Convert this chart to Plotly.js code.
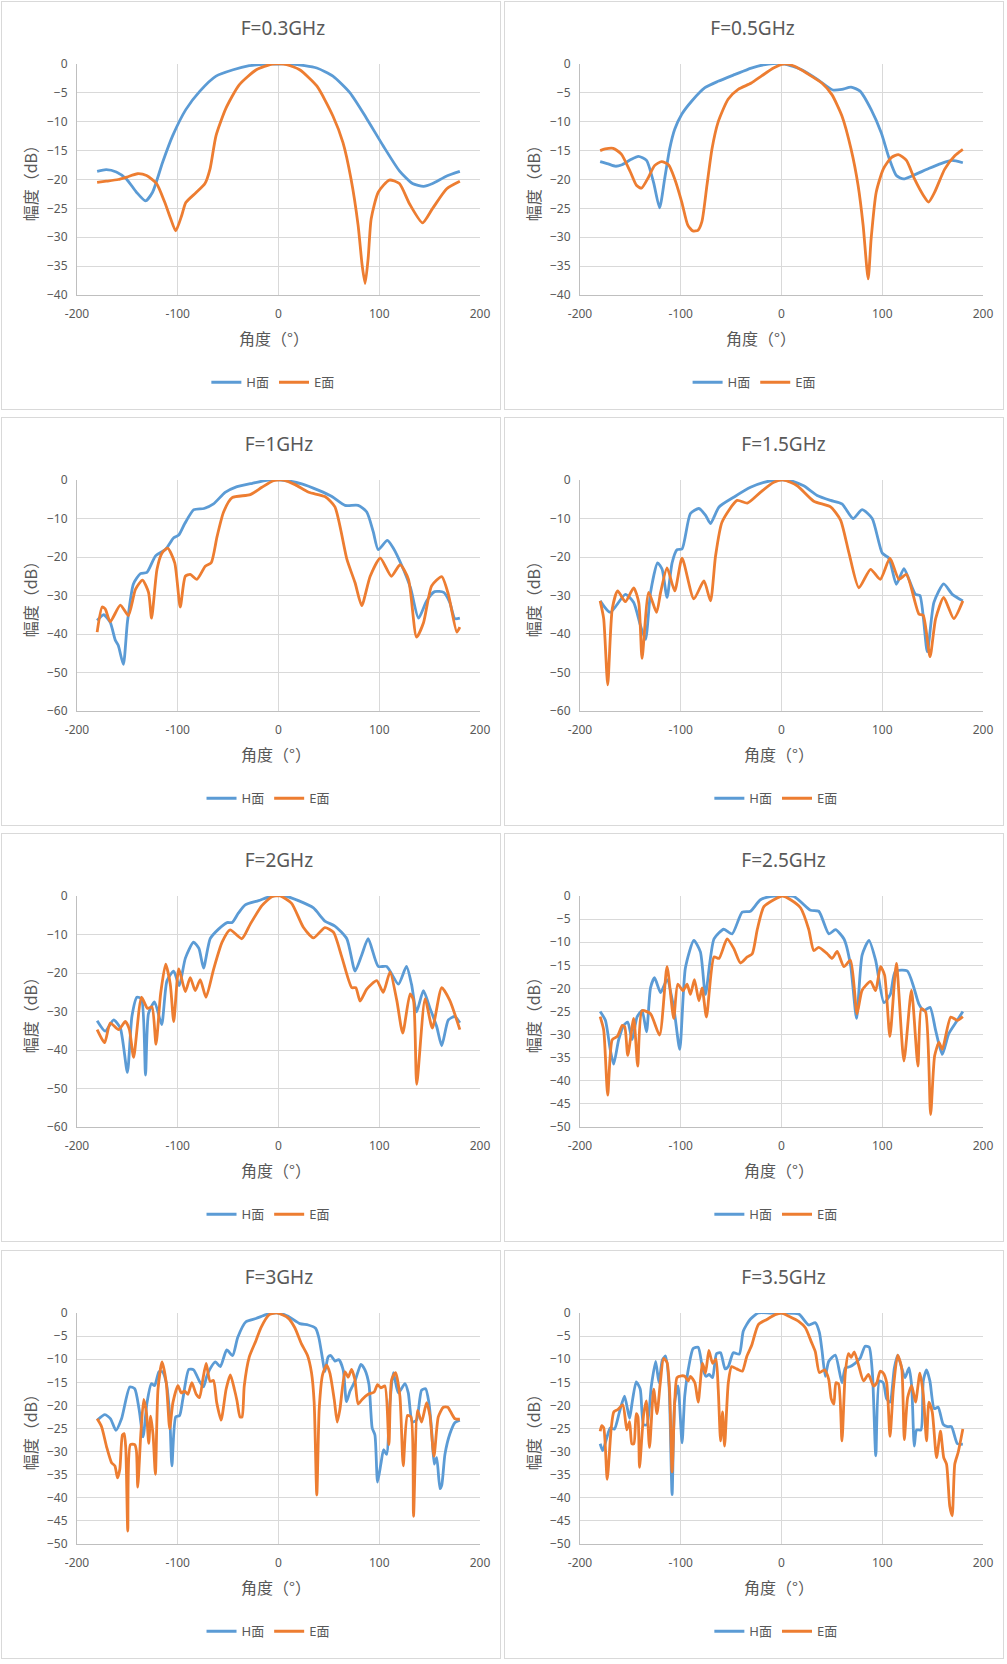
<!DOCTYPE html>
<html>
<head>
<meta charset="utf-8">
<script src="https://cdn.plot.ly/plotly-3.0.1.min.js"></script>
<style>
  body { margin: 0; background: #fff; }
  #wrap { position: relative; width: 1007px; height: 1664px; }
  .panel { position: absolute; width: 500px; height: 409px; box-sizing: border-box;
           border: 1px solid #d9d9d9; background: #fff; }
</style>
</head>
<body>
<div id="wrap"></div>
<script>
/* ── Data: [angle (°), amplitude (dB)] ── */
const H_03 = [[-180,-18.6],[-171,-18.3],[-161,-18.7],[-151,-19.9],[-141,-22.2],[-132,-23.7],[-125,-22.2],[-115,-17],[-105,-12.4],[-92,-7.9],[-78,-4.7],[-62,-2.1],[-45,-1],[-29,-0.3],[-12,0],[0,0],[14,0],[38,-0.7],[54,-2.1],[71,-5],[87,-9.3],[104,-14.2],[120,-18.5],[133,-20.7],[144,-21.2],[153,-20.7],[167,-19.4],[180,-18.6]];
const E_03 = [[-180,-20.5],[-171,-20.3],[-159,-20],[-151,-19.6],[-140,-19],[-131,-19.3],[-121,-20.7],[-113,-23.9],[-107,-26.8],[-102,-28.9],[-96,-26.2],[-92,-24],[-82,-22.3],[-73,-20.7],[-68,-18.2],[-62,-12.4],[-52,-7.6],[-39,-3.6],[-22,-1],[-6,0],[8,-0.1],[21,-1],[38,-3.8],[54,-9],[64,-13.6],[72,-19.9],[79,-27.9],[83,-34.8],[86,-38],[89,-33.6],[92,-26.8],[99,-22.2],[110,-20.1],[120,-20.7],[130,-24.2],[143,-27.5],[153,-25],[167,-21.6],[180,-20.3]];

const H_05 = [[-180,-16.9],[-172,-17.3],[-165,-17.7],[-159,-17.5],[-150,-16.6],[-142,-16],[-134,-16.7],[-127,-20.5],[-121,-24.9],[-116,-19.9],[-111,-14.7],[-106,-11.3],[-99,-8.7],[-89,-6.4],[-76,-4.1],[-63,-3],[-46,-1.8],[-30,-0.7],[-13,0],[3,0],[20,-1],[36,-2.7],[51,-4.5],[60,-4.4],[69,-4],[78,-4.7],[89,-7.9],[99,-11.9],[107,-16.4],[114,-19.3],[121,-19.9],[132,-19.2],[146,-18.1],[159,-17.2],[169,-16.7],[180,-17.1]];
const E_05 = [[-180,-15],[-175,-14.7],[-167,-14.6],[-159,-15.6],[-150,-18.7],[-144,-21],[-139,-21.5],[-132,-19.6],[-126,-17.6],[-119,-16.9],[-112,-17.5],[-106,-19.9],[-99,-23.9],[-93,-27.9],[-88,-28.9],[-83,-28.8],[-79,-27.3],[-74,-21],[-69,-14.7],[-63,-10.1],[-53,-6.1],[-43,-4.4],[-30,-3.3],[-20,-2.1],[-8,-0.7],[2,0],[13,-0.4],[26,-1.7],[40,-3.3],[50,-5.3],[60,-9],[69,-14.7],[76,-21],[81,-27.9],[86,-37.2],[89,-30.2],[94,-22.2],[101,-18.2],[109,-16.2],[116,-15.7],[124,-16.7],[132,-19.9],[141,-22.8],[146,-23.9],[152,-22.2],[162,-18.2],[172,-15.9],[180,-14.8]];

const H_10 = [[-180,-36.5],[-173.5,-35],[-167,-37],[-162,-41.6],[-159,-43],[-154,-47.9],[-150,-37],[-144,-27],[-137,-24.3],[-130.6,-24],[-122,-19.7],[-112,-18],[-104,-15],[-99,-14.3],[-93,-11.3],[-84,-7.7],[-74,-7.4],[-64.5,-6.2],[-53,-3.2],[-43,-1.9],[-26,-0.85],[-10,0],[3,0],[23,-1],[40,-2.7],[53,-4.3],[66,-6.6],[79,-6.6],[87.6,-8.3],[94,-13.4],[99,-18.1],[108,-15.7],[114,-17.7],[122,-22],[131,-28],[139,-35.9],[147,-31.4],[155,-29],[164,-29.2],[170,-31.8],[175,-36],[180,-35.9]];
const E_10 = [[-180,-39.5],[-175,-33],[-172,-33.5],[-167,-36.8],[-157,-32.5],[-149,-35.2],[-142,-28.4],[-135,-26],[-129,-29.2],[-126,-35.9],[-120.6,-23.2],[-115.7,-19],[-110,-17.7],[-103,-21.5],[-97.5,-33],[-92.5,-25],[-87.6,-24.5],[-81,-25.8],[-72.7,-22.4],[-66.8,-21.5],[-61,-14.7],[-54.5,-8.3],[-46,-4.6],[-28,-3.8],[-16.5,-1.9],[-5,-0.2],[5,0],[16.5,-1.2],[30,-3.2],[46,-4.3],[56,-7],[68,-20.7],[76,-26.7],[82.6,-32.6],[91,-25],[101,-20.3],[112,-25],[120.7,-22],[129,-25.8],[137,-40.8],[144,-37],[152,-27.5],[162,-25.1],[168.6,-29.7],[177,-39.5],[180,-38.2]];

const H_15 = [[-180,-31.4],[-170,-34.4],[-155,-29.7],[-146.7,-31.8],[-140,-37.8],[-135,-41.4],[-130,-29.2],[-123,-21.5],[-118.5,-23.2],[-113.6,-30.5],[-108.6,-21.5],[-103.6,-18.1],[-98.7,-17.9],[-90.4,-8.7],[-82,-7.4],[-75.5,-9.1],[-70.5,-11.3],[-62,-7],[-47,-4.4],[-30.8,-1.9],[-17.5,-0.6],[-4.3,0],[9,-0.2],[22,-1.5],[35.4,-4],[48.7,-5.3],[60,-6.2],[71,-10],[80,-7.7],[90,-10],[100,-19],[106.6,-20.3],[114,-27.1],[121.5,-23],[126.5,-25.8],[133,-29.7],[137.4,-30],[144.7,-44.6],[151.3,-31.8],[161,-27],[169.5,-29.7],[180,-31.4]];
const E_15 = [[-180,-31.4],[-176.5,-36],[-172.5,-53.2],[-168,-33.5],[-162.6,-28.8],[-155,-31.6],[-146.7,-28],[-141.7,-31.8],[-138.4,-46.3],[-131.8,-29.2],[-124,-34.4],[-120,-29.2],[-113.6,-22.8],[-106,-28.8],[-98.7,-20.3],[-87,-30.9],[-77,-26.2],[-70.5,-31.4],[-65.5,-19.8],[-59,-10.9],[-44,-5.3],[-34,-6],[-21,-3.2],[-7.6,-0.6],[2.3,0],[15.6,-1.5],[32,-5.5],[48.7,-7],[58.6,-10.4],[67,-19],[76.8,-28],[88.4,-23.2],[98,-25.8],[107.6,-20.3],[116.6,-25.8],[124,-24.5],[136.4,-34.8],[140.7,-35.2],[147.4,-45.9],[153,-36],[161,-30.5],[171,-36],[180,-31.4]];

const H_20 = [[-180,-32.4],[-172,-35.1],[-163.6,-32.2],[-157,-34.3],[-150,-45.8],[-145.5,-31.3],[-140.5,-26.3],[-136,-26.7],[-132,-46.5],[-129,-30.5],[-123,-27.5],[-116,-33.4],[-110.7,-22],[-104,-19.5],[-98.5,-23.3],[-92.5,-16.2],[-84.3,-12],[-79,-13.6],[-74.4,-18.7],[-67.8,-11.1],[-59.5,-8.6],[-51,-6.9],[-46,-6.9],[-39.7,-4.4],[-33,-2.3],[-19.8,-1.2],[-6.6,0],[6.6,0],[19.8,-1.2],[34.7,-3.1],[46,-6.5],[56,-7.8],[67.8,-11.1],[76,-19.5],[82.6,-15.3],[89,-11.1],[99,-18.3],[107.4,-18.3],[119,-22.9],[127,-18.3],[132,-22.9],[137,-30.1],[143.8,-24.6],[150.4,-29.2],[157,-33.9],[162,-38.9],[168.6,-32.2],[175,-31.3],[180,-32.9]];
const E_20 = [[-180,-34.7],[-172.6,-38.1],[-167,-33],[-158.7,-34.7],[-152,-32.6],[-148,-34.7],[-143.8,-41.9],[-136,-26.3],[-130,-29.2],[-125.6,-28.8],[-121.6,-38.5],[-117,-25.4],[-112,-17.7],[-107.4,-22.9],[-104,-32.6],[-99,-18.9],[-92.5,-24.8],[-87.6,-21.2],[-82.6,-24.6],[-77.7,-21.7],[-72,-26.3],[-64.5,-19.1],[-56,-12],[-48,-8.8],[-36.4,-11.1],[-28,-7.3],[-16.5,-2.5],[-6.6,-0.2],[1.7,0],[13,-1.9],[24.8,-8.2],[34.7,-10.9],[46,-8.2],[54.5,-9.4],[62.8,-15.8],[72.7,-23.8],[76.7,-23.8],[81,-27.3],[87.6,-24.2],[97.5,-22],[104,-25],[110.7,-19.7],[117.4,-27.1],[123.3,-35.6],[130.6,-25.4],[134,-27.1],[137.2,-48.9],[145.5,-26.7],[152.7,-34.3],[162,-23.8],[170,-27.1],[180,-34.7]];

const H_25 = [[-180,-25],[-174.8,-26.9],[-170,-33.2],[-166.6,-36.4],[-161.6,-31.1],[-156.6,-28],[-152.6,-27.3],[-148.3,-31.1],[-143.4,-26.2],[-138.4,-24.8],[-134,-29.4],[-130,-19.9],[-126,-17.7],[-120,-20.9],[-113.6,-18.1],[-107,-24.1],[-101,-33.2],[-95.4,-15.6],[-87,-9.6],[-80.5,-12.1],[-75.5,-21.3],[-67,-9.3],[-57.3,-7.2],[-49,-8.2],[-39,-3.5],[-30.8,-3.3],[-20.9,-0.8],[-7.6,0],[12.3,-0.1],[28.8,-3.1],[37,-3.3],[47,-8.2],[53.6,-7.3],[62,-9.3],[68.5,-14.9],[74.5,-26.5],[80,-12.8],[86.8,-9.6],[93.4,-13.9],[101.7,-23.1],[108,-21.3],[113,-16.3],[124.8,-16.2],[131.5,-19.9],[136.4,-23.4],[141.4,-24.8],[147.4,-24.1],[153,-29.1],[159.6,-34.3],[166,-29.8],[174.5,-26.9],[180,-25]];
const E_25 = [[-180,-26.1],[-176.5,-29],[-172.5,-43.1],[-168,-31.1],[-163,-30.4],[-158,-28],[-155.6,-28.3],[-152.6,-34.5],[-146.7,-26.5],[-142.7,-36.8],[-138.4,-24.8],[-130,-25.5],[-121,-30.1],[-113.6,-15.3],[-107,-26.5],[-103,-19.1],[-97.7,-20.5],[-93.7,-19.1],[-90.4,-21.3],[-86.4,-18.1],[-82,-22.7],[-78.8,-19.9],[-74.5,-26.2],[-67,-13.2],[-62,-13.5],[-54,-9.3],[-47.3,-11.4],[-40.7,-14.5],[-34,-13.2],[-29,-12.5],[-24,-7.2],[-17.5,-2.3],[-7.6,-0.8],[0.7,0],[9,-0.8],[19,-2.6],[27,-7.2],[32,-11.8],[37,-11.1],[45.4,-12.5],[50.3,-13.5],[55.3,-12],[62,-15.3],[68.5,-13.9],[75,-25.5],[80,-20.4],[88.4,-18.5],[93.4,-20.5],[98.3,-15.3],[102.3,-17.1],[107.6,-30.4],[114,-14.6],[121.5,-35.7],[129,-20.4],[135.4,-36.8],[138.7,-24.4],[143,-25.1],[148,-47.3],[152,-34.6],[156.3,-31.7],[159.6,-33.2],[168,-26.2],[174.5,-26.9],[180,-26.1]];

const H_30 = [[-180,-23.2],[-172.3,-22],[-166.7,-22.9],[-161.4,-25.4],[-155.8,-22.9],[-147.6,-16],[-142.7,-16.4],[-138.4,-20.8],[-134.4,-26.8],[-130.5,-19.4],[-126.2,-15.3],[-122.9,-15.7],[-118.6,-12.7],[-115.3,-12.7],[-111.4,-15.1],[-108,-22.2],[-105.8,-33.1],[-102,-22.5],[-98.2,-22.2],[-95,-18.7],[-89,-12.2],[-84.3,-12.3],[-78.4,-14.8],[-74.5,-16],[-71.2,-13.7],[-68.5,-12.3],[-62.6,-10.6],[-57.7,-11.6],[-51.4,-8],[-45.5,-9.2],[-40.5,-5.3],[-32.3,-1.9],[-22.4,-1.2],[-12.5,-0.35],[-5.9,0],[0,0],[9.6,-0.7],[21.2,-2.3],[29.5,-2.6],[36.8,-3.3],[40,-5.3],[43.4,-9.5],[46,-12.7],[49.3,-9.5],[52,-9.2],[56,-10.4],[60,-10.1],[64.2,-12.3],[67.5,-19.2],[71,-16.9],[75.8,-14.8],[78.5,-13],[81.8,-11.1],[85.8,-12.3],[89.8,-15.5],[93,-24.9],[95.7,-26.4],[98.3,-36.6],[101.6,-32.7],[104.3,-29.6],[107.3,-30.6],[110.6,-19.4],[114,-12.9],[118.9,-17.3],[125.5,-15.3],[128.8,-17.3],[132.8,-23.6],[137,-23.2],[142,-16.7],[146,-16.4],[149.3,-19.4],[152,-25.4],[154.6,-32.7],[157,-31.3],[160.3,-38],[162,-37.3],[165.2,-30.6],[170.2,-26.1],[175.2,-23.7],[180,-23.2]];
const E_30 = [[-180,-22.9],[-175.6,-24.6],[-170.7,-28.9],[-165.7,-32.4],[-162.4,-33.1],[-159.8,-35.7],[-157.5,-33.8],[-154.9,-26.4],[-153.2,-26.1],[-151.6,-29.2],[-149.6,-47.2],[-147,-28.5],[-142.7,-28.5],[-141,-29.9],[-139.7,-37.7],[-136.7,-26.4],[-133.8,-18.7],[-131.1,-21.5],[-128.8,-28.2],[-126.9,-22.3],[-124.5,-26.4],[-122.2,-34.9],[-119.6,-16.5],[-115.6,-10.6],[-111.4,-15.1],[-108,-25],[-104.8,-19.4],[-99.8,-15.7],[-96.5,-17.3],[-93.2,-16.9],[-90,-17.6],[-86,-15.1],[-81.7,-17.6],[-78.4,-18.3],[-75.1,-14.4],[-71.8,-10.9],[-67.9,-14.8],[-64.6,-14.6],[-61.3,-19.4],[-57,-23.2],[-52,-16.5],[-47.8,-13.4],[-43.8,-16.5],[-41.2,-19],[-38.2,-22.5],[-36.2,-22.5],[-34,-15.8],[-29,-9.5],[-22.4,-6],[-17.5,-3.2],[-9.2,-0.35],[-1,0],[9.6,-1.1],[16.2,-3.2],[22.8,-6.7],[28.8,-9.2],[32.8,-13],[35.4,-19.4],[38,-39.4],[40.4,-20.8],[43.7,-13.4],[47.7,-11.3],[51,-13],[55.3,-18.7],[58.3,-23.6],[61,-20.8],[66,-12.7],[69.2,-13.9],[72.5,-12.2],[75.8,-14.4],[79,-19.7],[83,-18.7],[89,-17.6],[95,-17.1],[98.3,-15.5],[101.6,-16.2],[105.6,-15.8],[109.6,-28.5],[112.3,-14.4],[116.2,-12.9],[120.5,-18],[123.8,-33.1],[128,-22.2],[131.5,-22.5],[134,-44],[138,-21.1],[142,-23.6],[147,-19.4],[150.3,-22.2],[154.3,-31],[158.6,-22.5],[163.6,-20.4],[168,-20.4],[171.9,-21.8],[175.2,-22.9],[180,-23]];

const H_35 = [[-180,-28.3],[-177.4,-29.8],[-173.4,-27],[-170,-24.9],[-165.8,-25.1],[-160.8,-21.4],[-155.8,-18],[-150.8,-22.8],[-148.2,-19.3],[-144.2,-14.9],[-140.2,-16.5],[-136.9,-24.2],[-133.6,-24.2],[-129.2,-15.8],[-124.9,-10.5],[-121.6,-15.1],[-118.3,-10.2],[-115,-9.3],[-111.6,-15.8],[-108.6,-39.3],[-106,-19.3],[-102.7,-15.8],[-98.7,-28.1],[-96,-17.9],[-91.7,-11.2],[-87.7,-7.7],[-82.7,-7.4],[-78.4,-11.9],[-75,-13.7],[-71.8,-13.3],[-68.4,-14],[-64.5,-8.8],[-60.5,-8.6],[-56,-12.1],[-52.8,-11.6],[-47.8,-8.6],[-41.9,-8.9],[-37.9,-3.9],[-31.2,-1.4],[-23,0],[-11.3,0],[0,0],[17,-0.2],[27,-2.6],[33.6,-2.1],[37.6,-4.2],[40.2,-8.1],[43.5,-13.7],[46.8,-10.5],[53.4,-9.1],[60,-15.1],[63.3,-11.9],[68.2,-11.6],[73,-10.9],[78,-9.8],[83,-7.2],[87,-7.4],[90.3,-13.3],[93.6,-30.9],[97.2,-14.7],[101,-15.1],[104.4,-18.6],[107.7,-19.3],[112,-11.9],[115.3,-9.1],[119.3,-11.9],[122.6,-14],[126.5,-11.9],[129.2,-15.8],[131.8,-28.8],[134.1,-25.3],[138.4,-25.3],[140.7,-14.7],[144,-12.3],[147.3,-14.7],[151.6,-20.7],[155.5,-20.4],[160.5,-24.1],[164.7,-24.6],[168.7,-24.6],[174.6,-28.3],[180,-28.4]];
const E_35 = [[-180,-25.6],[-178.4,-24.4],[-176.4,-24.9],[-173,-36],[-169,-24.9],[-166.4,-21.4],[-162.5,-20.9],[-157.5,-19.9],[-153.5,-25.3],[-150.8,-23.5],[-148.5,-28.3],[-146.5,-28.3],[-144.2,-21.8],[-142.5,-22.5],[-140.9,-33.4],[-136.9,-22.1],[-134.2,-19],[-131,-29.1],[-126.9,-16.5],[-123.6,-21.8],[-120.3,-15.1],[-117,-9.8],[-113.6,-10.7],[-111,-17.2],[-108.6,-34.4],[-106,-19.3],[-103.7,-14],[-99.3,-13.6],[-96,-13.7],[-92.7,-14.7],[-90.4,-13.7],[-86,-15.1],[-82.7,-19.3],[-78.4,-10.9],[-75.4,-13],[-72.1,-8.1],[-68.4,-10.9],[-65.1,-10],[-62.8,-16.5],[-60.5,-27.7],[-58.5,-21.4],[-56.5,-28.8],[-52.8,-15.1],[-49.5,-11.6],[-44.5,-12.1],[-38.9,-12.6],[-34.6,-9.5],[-29.6,-7],[-23,-2.5],[-14.6,-1.4],[-6.3,-0.35],[0,0],[7.2,-0.7],[17,-1.8],[23.7,-3.2],[29.7,-6.3],[33.6,-8.4],[37.6,-12.9],[42.8,-12.3],[46.8,-14.3],[49.4,-18.6],[52,-19.7],[54,-15.1],[56.7,-15.4],[60,-27.7],[63.3,-13],[66.5,-8.8],[69.2,-9.6],[72.2,-8.4],[76.4,-11.2],[81.4,-14.7],[86.3,-13.3],[91.3,-15.8],[94.6,-15.1],[97.9,-12.6],[101,-13],[104.4,-15.1],[107.7,-26.7],[111,-16.5],[115.3,-9.1],[119.3,-11.9],[121.9,-27.4],[125.2,-18.3],[129.2,-15.7],[133,-19.3],[137.4,-13],[140.7,-17.6],[144,-27.7],[146.3,-19.3],[149.6,-21.4],[153.9,-31.3],[157.8,-25.6],[161,-31.3],[163.8,-32.7],[167,-41.8],[169.4,-43.9],[172,-32.7],[175.3,-30.2],[180,-25.1]];

/* ── Panel list (frequency title, series, y-axis floor/step) ── */
const TITLES  = ['F=0.3GHz', 'F=0.5GHz', 'F=1GHz', 'F=1.5GHz', 'F=2GHz', 'F=2.5GHz', 'F=3GHz', 'F=3.5GHz'];
const H_SETS  = [H_03, H_05, H_10, H_15, H_20, H_25, H_30, H_35];
const E_SETS  = [E_03, E_05, E_10, E_15, E_20, E_25, E_30, E_35];
const Y_MIN   = [-40, -40, -60, -60, -60, -50, -50, -50];
const Y_STEP  = [5, 5, 10, 10, 10, 5, 5, 5];
const X_TICKS = [-200, -100, 0, 100, 200];

/* ── Shared styling ────────────────────────────────────────── */
const FONT = "'Noto Sans', 'Noto Sans CJK SC', sans-serif";
const CJK_FONT = "'Noto Sans CJK SC', 'Noto Sans', sans-serif";
const GREY = '#595959';
const BLUE = '#5B9BD5';
const ORANGE = '#ED7D31';
const COL_LEFT = [1, 504];
const ROW_TOP = [1, 417, 833, 1250];
/* per-panel centring of title / legend / x title (Excel drifts a bit) */
const TITLE_X  = [0.511, 0.428, 0.501, 0.505, 0.501, 0.505, 0.501, 0.505];
const LEGEND_X = [0.486, 0.432, 0.474, 0.486, 0.474, 0.486, 0.474, 0.486];
const XTITLE_X = [0.489, 0.450, 0.494, 0.494, 0.494, 0.494, 0.494, 0.494];

function yTicks(min, step) {
  const t = [];
  for (let v = 0; v >= min; v -= step) t.push(v);
  return t;
}

function series(pts, name, color) {
  return {
    x: pts.map(p => p[0]),
    y: pts.map(p => p[1]),
    name: name,
    type: 'scatter',
    mode: 'lines',
    line: { color: color, width: 2.8, shape: 'spline', smoothing: 0.6 },
    hoverinfo: 'x+y+name'
  };
}

function drawPanel(i) {
  const div = document.createElement('div');
  div.className = 'panel';
  div.id = 'chart' + i;
  div.style.left = COL_LEFT[i % 2] + 'px';
  div.style.top = ROW_TOP[Math.floor(i / 2)] + 'px';
  document.getElementById('wrap').appendChild(div);

  const traces = [
    series(H_SETS[i], 'H面', BLUE),
    series(E_SETS[i], 'E面', ORANGE)
  ];

  const layout = {
    width: 498, height: 407,
    margin: { l: 75, r: 20, t: 62, b: 112 },
    paper_bgcolor: '#fff', plot_bgcolor: '#fff',
    font: { family: FONT, color: GREY, size: 12 },
    title: {
      text: TITLES[i],
      font: { family: FONT, size: 19, color: GREY },
      x: TITLE_X[i], xref: 'paper', xanchor: 'center',
      y: 0.936, yref: 'container', yanchor: 'middle'
    },
    xaxis: {
      range: [-200, 200], tickvals: X_TICKS, ticktext: X_TICKS.map(String),
      showgrid: true, gridcolor: '#d9d9d9', gridwidth: 1,
      zeroline: false, showline: true, linecolor: '#bfbfbf', linewidth: 1,
      ticks: '', ticklabelstandoff: 8,
      tickfont: { family: FONT, size: 12, color: GREY }, fixedrange: true
    },
    yaxis: {
      range: [Y_MIN[i], 0], tickvals: yTicks(Y_MIN[i], Y_STEP[i]),
      showgrid: true, gridcolor: '#d9d9d9', gridwidth: 1,
      zeroline: false, showline: true, linecolor: '#bfbfbf', linewidth: 1,
      ticks: '', ticklabelstandoff: 6,
      tickfont: { family: FONT, size: 12, color: GREY }, fixedrange: true
    },
    showlegend: true,
    legend: {
      orientation: 'h', x: LEGEND_X[i], xanchor: 'center',
      y: -0.378, yanchor: 'middle',
      font: { family: FONT, size: 13, color: GREY },
      bgcolor: 'rgba(0,0,0,0)'
    },
    annotations: [
      { text: '角度（°）', xref: 'paper', yref: 'paper',
        x: XTITLE_X[i], y: -0.185, xanchor: 'center', yanchor: 'middle',
        showarrow: false, font: { family: CJK_FONT, size: 16, color: GREY } },
      { text: '幅度（dB）', xref: 'paper', yref: 'paper', textangle: -90,
        x: -0.117, y: 0.5, xanchor: 'center', yanchor: 'middle',
        showarrow: false, font: { family: CJK_FONT, size: 16, color: GREY } }
    ]
  };

  Plotly.newPlot(div.id, traces, layout, { staticPlot: true, displayModeBar: false });
}

/* ── Boot all panels ──────────────────────────────────────── */
for (let i = 0; i < TITLES.length; i++) drawPanel(i);
</script>
</body>
</html>
